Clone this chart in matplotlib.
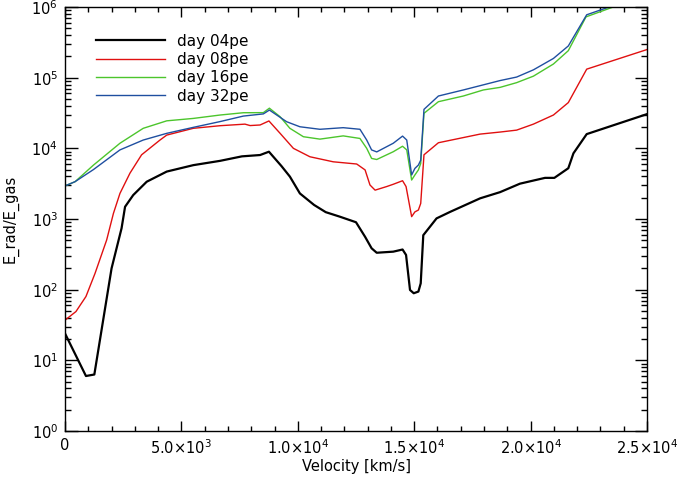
import numpy as np
import matplotlib
matplotlib.use("Agg")
import matplotlib.pyplot as plt
from matplotlib.ticker import FixedLocator, FuncFormatter, LogLocator, NullFormatter

# day 04pe
v_04 = [0, 900, 1260, 2000, 2430, 2580, 2930, 3510, 4370, 5510, 6660, 7600, 8380, 8760,
        9300, 9660, 10090, 10700, 11200, 11800, 12500, 12890, 13170, 13390, 14100, 14500,
        14650, 14820, 14980, 15180, 15280, 15390, 15960, 16540, 17830, 18690, 19540, 20120,
        20620, 21020, 21620, 21840, 22410, 25000]
e_04 = [24, 6.0, 6.3, 200, 740, 1490, 2180, 3370, 4690, 5780, 6650, 7700, 8040, 8960,
        5600, 3980, 2300, 1580, 1250, 1080, 900, 560, 385, 333, 345, 370,
        310, 99, 89, 94, 123, 590, 1020, 1260, 1960, 2400, 3160, 3500,
        3820, 3820, 5230, 8500, 15900, 30500]

# day 08pe
v_08 = [0, 470, 900, 1290, 1790, 2080, 2360, 2790, 3290, 4080, 4370, 5510, 6660, 7730,
        7950, 8380, 8760, 9240, 9810, 10520, 11520, 12530, 12890, 13100, 13320, 13820,
        14100, 14500, 14650, 14890, 15030, 15180, 15280, 15420, 16040, 17830, 18690,
        19400, 20120, 20980, 21620, 22410, 25000]
e_08 = [37, 49, 80, 170, 505, 1200, 2300, 4450, 8100, 13100, 15400, 19200, 20900, 22000,
        21000, 21400, 24400, 16300, 10000, 7600, 6450, 6000, 4950, 3030, 2560, 2880,
        3100, 3480, 2880, 1080, 1260, 1340, 1660, 8100, 12000, 15900, 17000,
        18100, 22000, 29600, 44400, 132000, 250000]

# day 16pe
v_16 = [0, 430, 1220, 2360, 3360, 4370, 5510, 6660, 7660, 8520, 8780, 9240, 9660, 10240,
        10950, 11950, 12670, 12960, 13170, 13390, 14100, 14500, 14680, 14890, 15030,
        15180, 15280, 15420, 16040, 17110, 17970, 18690, 19400, 20120, 20980, 21620,
        22380, 23550, 25000]
e_16 = [2940, 3370, 5780, 11800, 19200, 24500, 26500, 29600, 31900, 32000, 37000, 28000,
        19200, 14600, 13500, 15000, 13800, 10000, 7200, 6950, 8950, 10700, 9500, 3560,
        4200, 4950, 6100, 31300, 45700, 55000, 67000, 72900, 85000, 105000, 156000,
        241000, 725000, 1.0e6, 1.5e6]

# day 32pe
v_32 = [0, 430, 1220, 2360, 3360, 4370, 5510, 6660, 7660, 8520, 8780, 9520, 10090, 10950,
        11950, 12670, 12960, 13170, 13390, 14100, 14500, 14680, 14890, 15030, 15180,
        15280, 15420, 16040, 17110, 18690, 19400, 20120, 20980, 21620, 22410, 23550, 25000]
e_32 = [2940, 3370, 5000, 9500, 13100, 16300, 19800, 23900, 28600, 30700, 34800, 23800,
        20200, 18600, 19600, 18600, 13100, 9500, 8900, 11800, 14900, 13100, 4200, 5200,
        5800, 6800, 35600, 55000, 67000, 91000, 102000, 129000, 187000, 281000, 776000,
        1.05e6, 1.6e6]

labels = ["day 04pe", "day 08pe", "day 16pe", "day 32pe"]
x_major = [0, 5000, 10000, 15000, 20000, 25000]

plt.rcParams['font.family'] = ['DejaVu Sans']
plt.rcParams['mathtext.default'] = 'regular'

fig = plt.figure(figsize=(6.78, 4.79), dpi=100)
ax = fig.add_axes([65/678, 1 - 431/479, 582/678, 424/479])

ax.plot(v_04, e_04, color='black', lw=1.6, label=labels[0])
ax.plot(v_08, e_08, color='#e01010', lw=1.0, label=labels[1])
ax.plot(v_16, e_16, color='#4cc52c', lw=1.0, label=labels[2])
ax.plot(v_32, e_32, color='#1f4fa0', lw=1.0, label=labels[3])

ax.set_yscale('log')
ax.set_xlim(0, 25000)
ax.set_ylim(1, 1e6)


def xfmt(v, pos):
    if v == 0:
        return "0"
    e = int(np.floor(np.log10(v)))
    return r"%.1f$\times$10$^{%d}$" % (v / 10**e, e)


ax.xaxis.set_major_locator(FixedLocator(x_major))
ax.xaxis.set_minor_locator(FixedLocator(np.arange(0, 25001, 1000)))
ax.xaxis.set_major_formatter(FuncFormatter(xfmt))
ax.yaxis.set_major_locator(LogLocator(base=10, numticks=10))
ax.yaxis.set_minor_locator(LogLocator(base=10, subs=np.arange(2, 10), numticks=20))
ax.yaxis.set_minor_formatter(NullFormatter())
ax.yaxis.set_major_formatter(FuncFormatter(lambda v, p: r"10$^{%d}$" % round(np.log10(v))))

ax.tick_params(which='both', direction='in', top=True, right=True, labelsize=10.5, width=1.0)
ax.tick_params(axis='x', which='major', length=7, pad=5)
ax.tick_params(axis='x', which='minor', length=3.5)
ax.tick_params(axis='y', which='major', length=9, pad=5)
ax.tick_params(axis='y', which='minor', length=4.5)
for s in ax.spines.values():
    s.set_linewidth(1.0)

ax.set_xlabel("Velocity [km/s]", fontsize=10.5, labelpad=2)
ax.set_ylabel("E_rad/E_gas", fontsize=10.5, labelpad=9)

ax.legend(loc='upper left', bbox_to_anchor=(0.04, 0.955), frameon=False, fontsize=11,
          handlelength=4.5, handletextpad=0.8, labelspacing=0.22, borderpad=0)

fig.savefig("out.png", dpi=100)
